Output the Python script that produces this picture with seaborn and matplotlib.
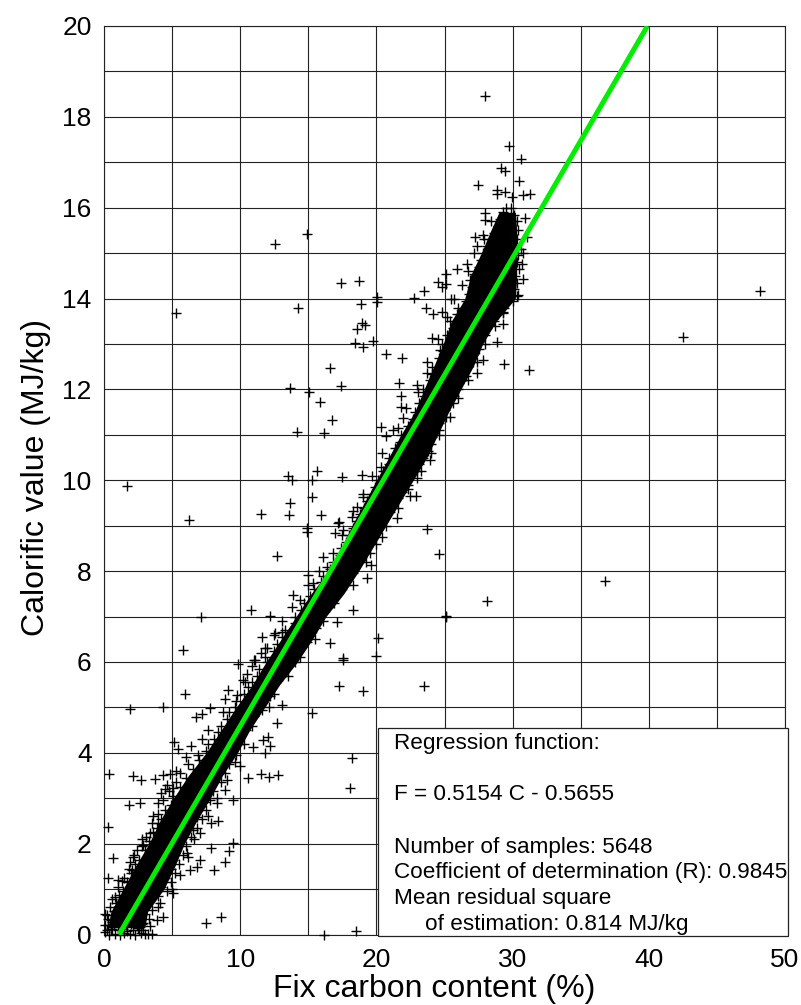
import pandas as pd
import matplotlib.pyplot as plt
from matplotlib.patches import Rectangle
import seaborn as sns

# regression line
line_x = [1.10, 39.90]
line_y = [0.0, 20.0]

# solid black part of the cloud, where the samples overlap completely
core_y = [0.15, 0.5, 1, 1.5, 2, 2.5, 3, 3.5, 4, 4.5, 5, 5.5, 6, 6.5, 7, 7.5, 8, 8.5, 9, 9.5, 10, 10.5,
          11, 11.5, 12, 12.5, 13, 13.5, 14, 14.5, 15, 15.5, 15.9]
core_lo = [0.3, 0.5, 1.4, 2.3, 3.3, 4.1, 5.1, 6.2, 7.5, 8.6, 9.7, 10.9, 11.9, 13.0, 14.1, 15.2, 16.5, 17.4, 18.2, 19.1, 20.0, 20.9,
           21.8, 22.8, 23.5, 24.2, 24.9, 25.5, 26.5, 26.9, 27.7, 28.4, 29.0]
core_hi = [3.0, 3.2, 4.4, 5.2, 5.9, 6.8, 7.8, 8.7, 9.8, 10.7, 11.8, 12.9, 14.2, 15.3, 16.3, 17.6, 18.7, 19.7, 20.7, 21.7, 22.7, 23.7,
           24.5, 25.3, 26.2, 27.1, 27.8, 28.8, 30.2, 30.3, 30.3, 30.3, 30.2]

# samples along the upper left edge of the cloud
left_y = [0.05, 0.12, 0.2, 0.28, 0.35, 0.45, 0.52, 0.6, 0.7, 0.78, 0.88, 0.95, 1.05, 1.15, 1.25, 1.35, 1.45, 1.55, 1.65, 1.75,
          1.85, 1.95, 2.05, 2.15, 2.25, 2.35, 2.45, 2.55, 2.65, 2.75, 2.85, 2.95, 3.05, 3.15, 3.25, 3.35, 3.45, 3.55, 3.65, 3.75,
          3.85, 3.95, 4.05, 4.2, 4.3, 4.45, 4.6, 4.75, 4.9, 5.0, 5.15, 5.3, 5.45, 5.55, 5.7, 5.85, 6.0, 6.1, 6.25, 6.4,
          6.55, 6.7, 6.85, 7.0, 7.15, 7.3, 7.45, 7.6, 7.75, 7.9, 8.05, 8.2, 8.35, 8.5, 8.65, 8.8, 8.95, 9.1, 9.25, 9.4,
          9.55, 9.7, 9.85, 10.0, 10.2, 10.35, 10.5, 10.7, 10.85, 11.0, 11.2, 11.35, 11.5, 11.7, 11.85, 12.0, 12.2, 12.35, 12.5, 12.7,
          12.85, 13.0, 13.2, 13.35, 13.5, 13.65, 13.8, 13.95, 14.1, 14.25, 14.4, 14.55, 14.7, 14.85, 15.0, 15.15, 15.3, 15.45, 15.6, 15.75,
          15.9, 16.0]
left_x = [0.1, 0.5, 0.05, 0.6, 0.3, 0.1, 0.7, 0.45, 0.9, 0.6, 1.1, 1.4, 1.0, 1.7, 1.5, 2.0, 1.8, 2.3, 2.6, 2.2,
          3.0, 2.8, 3.3, 3.1, 3.6, 3.9, 3.5, 4.2, 4.0, 4.5, 4.9, 4.3, 5.1, 4.8, 5.6, 5.3, 6.0, 5.6, 6.5, 6.2,
          7.0, 6.9, 7.5, 7.6, 8.1, 8.4, 8.6, 9.0, 9.2, 9.6, 9.7, 10.3, 10.6, 10.9, 11.2, 11.4, 12.0, 11.8, 12.5, 12.7,
          13.1, 13.3, 14.0, 14.0, 14.5, 14.7, 15.1, 15.4, 15.9, 16.1, 16.6, 16.8, 17.3, 17.4, 17.8, 18.0, 18.3, 18.6, 18.8, 19.1,
          19.3, 19.7, 19.9, 20.1, 20.5, 20.9, 20.9, 21.4, 21.7, 21.8, 22.3, 22.7, 22.8, 23.1, 23.5, 23.4, 23.9, 24.1, 24.1, 24.6,
          24.9, 24.8, 25.2, 25.6, 25.4, 25.9, 26.0, 26.6, 26.8, 27.0, 26.9, 27.2, 27.5, 27.7, 27.8, 28.1, 28.4, 28.6, 28.9, 29.1,
          29.3, 29.5]

# samples along the lower right edge of the cloud
right_y = [0.02, 0.1, 0.18, 0.25, 0.35, 0.45, 0.55, 0.39, 0.75, 0.85, 0.95, 1.05, 1.15, 1.25, 1.35, 1.45, 1.55, 1.65, 1.75, 1.85,
           1.95, 2.05, 2.15, 2.25, 2.35, 2.45, 2.55, 2.65, 2.75, 2.85, 2.95, 3.05, 3.15, 3.25, 3.35, 3.45, 3.55, 3.65, 3.75, 3.85,
           3.95, 4.05, 4.2, 4.35, 4.5, 4.65, 4.8, 4.95, 5.1, 5.25, 5.4, 5.55, 5.7, 5.85, 6.0, 6.15, 6.3, 6.45, 6.6, 6.75,
           6.9, 7.05, 7.2, 7.35, 7.5, 7.65, 7.8, 7.95, 8.1, 8.25, 8.4, 8.55, 8.7, 8.85, 9.0, 9.15, 9.3, 9.45, 9.6, 9.75,
           9.9, 10.05, 10.2, 10.35, 10.5, 10.65, 10.8, 10.95, 11.1, 11.25, 11.4, 11.55, 11.7, 11.85, 12.0, 12.15, 12.3, 12.45, 12.6, 12.75,
           12.9, 13.05, 13.2, 13.35, 13.5, 13.65, 13.8, 13.95, 14.05, 14.2, 14.35, 14.5, 14.65, 14.8, 14.95, 15.1, 15.3, 15.5, 15.7, 15.85,
           16.0]
right_x = [3.2, 2.6, 3.4, 2.9, 3.3, 3.0, 3.5, 4.3, 3.4, 4.0, 4.6, 4.2, 4.9, 4.5, 5.2, 4.9, 5.5, 5.1, 5.8, 5.3,
           6.0, 5.6, 6.4, 5.9, 6.8, 6.3, 7.2, 6.6, 7.5, 7.0, 7.8, 7.3, 8.0, 7.6, 8.6, 8.0, 8.9, 8.4, 9.2, 9.0,
           9.7, 9.3, 9.9, 9.8, 10.4, 10.3, 11.0, 11.6, 11.2, 12.2, 12.1, 12.6, 13.1, 13.0, 14.0, 13.9, 14.4, 14.9, 15.0, 15.6,
           15.5, 15.9, 16.5, 16.4, 17.0, 17.3, 17.7, 18.3, 18.4, 18.9, 19.2, 19.4, 19.7, 20.0, 20.3, 20.4, 21.0, 21.1, 21.6, 21.9,
           22.3, 22.4, 23.0, 23.1, 23.4, 23.8, 24.0, 24.1, 24.6, 24.6, 25.1, 25.0, 25.6, 25.7, 26.0, 26.1, 26.6, 26.6, 27.1, 27.1,
           27.5, 27.5, 28.0, 28.1, 28.6, 28.9, 29.4, 30.0, 30.3, 30.1, 30.3, 30.2, 30.5, 30.3, 30.4, 30.6, 30.3, 30.4, 30.3, 30.1,
           29.9]

# ragged samples just outside the edges
fringe_y = [1.2, 1.6, 2.1, 2.6, 2.9, 3.2, 3.6, 3.9, 4.3, 5.6, 5.9, 6.2, 6.6, 6.9, 7.2, 7.7, 8.0, 8.4, 8.8, 9.2, 9.7, 10.1, 10.6, 11.1, 11.6,
            12.1, 12.6, 13.1, 13.6, 14.0, 14.3, 14.6, 15.0, 15.3, 15.7,
            0.6, 1.0, 1.3, 1.7, 2.1, 2.6, 3.0, 3.4, 3.8, 4.2, 4.6, 5.0, 5.3, 5.7, 6.1, 6.5, 6.9, 7.3, 7.7, 8.2, 8.6, 9.0, 9.4, 9.8, 10.2,
            10.6, 11.0, 11.4, 11.8, 12.2, 12.6, 13.0, 13.4, 13.7]
fringe_x = [1.0, 1.9, 2.8, 3.6, 4.0, 4.5, 5.3, 6.0, 7.2, 10.2, 10.9, 11.5, 12.5, 13.1, 13.8, 15.0, 15.8, 16.8, 17.5, 18.2, 19.0, 19.7, 20.4, 21.2, 22.2,
            23.0, 23.7, 24.5, 25.2, 25.7, 26.3, 26.7, 27.2, 27.9, 28.4,
            4.0, 5.0, 5.6, 6.2, 6.6, 7.6, 8.3, 9.0, 9.6, 10.3, 10.9, 12.1, 12.5, 13.5, 14.4, 15.5, 16.1, 16.9, 17.8, 19.2, 20.0, 20.7, 21.6, 22.3, 23.3,
            24.0, 24.6, 25.4, 26.0, 26.7, 27.4, 28.0, 28.7, 29.3]

# samples at the foot of the cloud, too sparse to be solid
foot_x = [0.4, 0.8, 1.2, 1.5, 1.9, 2.3, 2.7, 3.0, 0.2, 0.6, 1.0, 1.4, 1.7, 2.1, 2.5, 2.9, 0.3, 0.7, 1.1, 1.6, 2.0, 2.4, 2.8, 0.5, 0.9, 1.3, 1.8, 2.2, 2.6]
foot_y = [0.0, 0.02, 0.0, 0.03, 0.01, 0.0, 0.03, 0.02, 0.1, 0.12, 0.09, 0.13, 0.08, 0.11, 0.14, 0.1, 0.22, 0.2, 0.25, 0.21, 0.24, 0.2, 0.23, 0.33, 0.36, 0.31, 0.38, 0.34, 0.37]

# samples standing off the cloud
off_x = [27.95, 29.71, 30.59, 29.13, 29.42, 30.45, 27.44, 28.83, 28.83, 29.42, 29.93, 30.74, 31.25, 27.95, 18.71, 20.03, 20.03, 18.86, 18.93, 18.56,
         19.15, 18.42, 19.0, 19.74, 20.69, 21.86, 22.74, 23.48, 24.5, 24.8, 25.09, 25.09, 25.46, 25.9, 23.62, 24.14, 24.8, 24.06, 29.35, 31.18,
         12.55, 14.89, 17.39, 14.23, 16.58, 17.39, 13.65, 15.04, 15.85, 16.73, 14.16, 16.14, 21.64, 21.79, 21.79, 20.32, 20.69, 13.5, 13.79, 15.63,
         15.26, 17.46, 18.93, 13.65, 13.57, 11.52, 15.26, 15.92, 14.89, 14.89, 17.24, 12.69, 10.79, 12.18, 11.59, 11.0, 23.7, 24.58, 22.89, 22.45,
         25.09, 25.09, 20.1, 19.96, 17.53, 16.58, 21.5, 19.3, 19.59, 18.27, 17.09, 5.8, 9.83, 17.53, 17.24, 19.0, 5.94, 1.91, 4.33, 15.26,
         18.2, 18.05, 0.37, 2.13, 2.71, 3.74, 4.33, 4.84, 5.14, 5.43, 6.38, 1.83, 2.64, 4.18, 0.29, 0.66, 2.13, 0.29, 1.32, 7.48,
         8.58, 16.14, 18.49, 3.52, 10.56, 11.52, 12.11, 12.77, 9.46, 9.17, 8.88, 8.07, 7.85, 8.36, 7.85, 9.46, 11.81, 12.03, 12.18, 12.69,
         13.06, 9.98, 1.69, 6.24, 5.28, 7.12, 36.76, 42.48, 48.13, 28.1, 23.48, 11.67, 10.93, 4.62, 5.06, 6.31, 6.82, 6.09, 7.04, 7.04,
         6.53, 6.82, 8.29, 7.41, 8.88, 5.06, 4.11, 3.89, 2.86, 2.42, 3.96, 3.37, 2.05, 0.81, 0.22, 7.63, 6.75, 7.19, 7.78, 8.73,
         8.88, 9.1, 9.76, 10.49, 11.08, 11.96, 10.34, 18.27, 18.56, 20.32, 19.0, 17.17, 16.95, 17.53, 16.07, 16.36, 14.97, 15.33, 13.87, 14.38,
         12.55, 13.06, 11.81, 21.57, 21.94, 23.04, 23.7, 24.65, 23.92, 22.96, 20.4, 19.52, 18.27, 27.22, 27.8, 27.37, 26.63, 27.95, 30.89, 31.03,
         30.74, 30.67, 30.74, 30.37, 29.27, 29.27, 28.83, 27.8, 27.37]
off_y = [18.45, 17.35, 17.08, 16.88, 16.8, 16.58, 16.49, 16.4, 16.31, 16.35, 16.24, 16.29, 16.31, 15.89, 14.39, 14.04, 13.93, 13.89, 13.47, 13.34,
         13.41, 13.03, 12.94, 13.07, 12.79, 12.7, 14.02, 14.17, 14.37, 14.26, 14.53, 14.33, 14.0, 14.64, 13.8, 13.67, 13.71, 13.14, 12.57, 12.43,
         15.21, 15.43, 14.35, 13.8, 12.48, 12.08, 12.02, 11.95, 11.73, 11.33, 11.07, 11.05, 12.15, 11.86, 11.62, 11.18, 10.98, 10.1, 10.01, 10.21,
         10.01, 10.08, 10.12, 9.5, 9.24, 9.26, 9.64, 9.24, 8.95, 8.87, 9.09, 8.34, 7.15, 7.02, 6.55, 6.05, 8.93, 8.38, 9.66, 9.66,
         6.99, 7.01, 6.53, 6.13, 6.09, 6.42, 9.17, 7.85, 8.14, 7.15, 6.88, 6.27, 5.96, 6.05, 5.47, 5.36, 5.3, 4.97, 5.01, 4.88,
         3.89, 3.23, 3.54, 3.49, 3.4, 3.43, 3.51, 3.54, 4.24, 4.09, 4.15, 2.85, 2.9, 3.12, 2.37, 1.68, 1.71, 1.24, 1.18, 0.25,
         0.39, -0.01, 0.08, 0.01, 3.45, 3.54, 3.47, 3.51, 2.02, 1.84, 1.6, 1.42, 1.91, 2.5, 2.46, 2.96, 4.0, 4.35, 4.15, 4.66,
         5.05, 3.71, 9.88, 9.13, 13.69, 6.99, 7.78, 13.16, 14.17, 7.35, 5.47, 4.28, 4.13, 3.29, 3.23, 1.42, 1.49, 1.8, 1.64, 2.24,
         2.3, 2.59, 2.9, 2.92, 3.18, 0.91, 0.69, 0.32, 1.97, 1.86, 2.46, 2.24, 1.42, 0.83, 0.43, 4.5, 4.79, 4.86, 4.99, 4.9,
         5.19, 5.39, 5.27, 5.74, 6.05, 6.31, 5.56, 9.33, 9.42, 10.3, 9.64, 9.06, 8.84, 8.91, 8.31, 8.09, 7.92, 7.74, 7.48, 7.37,
         6.64, 6.66, 6.31, 11.16, 11.38, 11.95, 12.37, 12.87, 10.45, 10.05, 8.76, 8.4, 7.7, 15.36, 15.41, 15.15, 14.75, 15.74, 15.78, 15.36,
         15.01, 14.75, 14.42, 14.08, 13.69, 13.43, 13.05, 12.65, 12.37]

x_ticks = [0, 10, 20, 30, 40, 50]
y_ticks = [0, 2, 4, 6, 8, 10, 12, 14, 16, 18, 20]

box_lines = ["Regression function:", "F = 0.5154 C - 0.5655", "Number of samples: 5648",
             "Coefficient of determination (R): 0.9845", "Mean residual square", "of estimation: 0.814 MJ/kg"]

sns.set_style("white")
plt.rcParams['font.family'] = ['Liberation Sans', 'DejaVu Sans']
plt.rcParams['text.color'] = 'black'
plt.rcParams['axes.labelcolor'] = 'black'

samples = pd.DataFrame({'carbon': left_x + right_x + fringe_x + foot_x + off_x,
                        'calorific': left_y + right_y + fringe_y + foot_y + off_y})

fig = plt.figure(figsize=(8.01, 10.05), dpi=100)
ax = fig.add_axes([104 / 801, 1 - 934.5 / 1005, 681 / 801, 908.5 / 1005])

ax.fill_betweenx(core_y, core_lo, core_hi, color='black', lw=0, zorder=2)
sns.scatterplot(data=samples, x='carbon', y='calorific', marker='+', s=62, color='black', linewidth=1.0,
                clip_on=False, zorder=3, ax=ax)
sns.lineplot(x=line_x, y=line_y, color='#00ee00', linewidth=3.6, solid_capstyle='butt', zorder=4, ax=ax)

ax.set_xlim(0, 50)
ax.set_ylim(0, 20)
ax.set_xticks(x_ticks)
ax.set_xticks(range(0, 51, 5), minor=True)
ax.set_yticks(y_ticks)
ax.set_yticks(range(0, 21), minor=True)
ax.grid(which='both', color='#222222', linewidth=0.8)
ax.set_axisbelow(True)
ax.tick_params(which='both', length=0)
ax.tick_params(axis='x', labelsize=19, pad=10, colors='black')
ax.tick_params(axis='y', labelsize=19, pad=9, colors='black')
for side in ax.spines.values():
    side.set_color('#222222')
    side.set_linewidth(0.8)
ax.set_xlabel('Fix carbon content (%)', fontsize=23, x=0.485, labelpad=1.5)
ax.set_ylabel('Calorific value (MJ/kg)', fontsize=23, y=0.503, labelpad=8)

# text box over the lower right corner
ax.add_patch(Rectangle((20.1, -0.03), 30.1, 4.58, facecolor='white', edgecolor='#222222', linewidth=0.9,
                       clip_on=False, zorder=5))
text_x = [21.28, 21.28, 21.28, 21.28, 21.28, 23.55]
text_y = [4.21, 3.09, 1.92, 1.37, 0.80, 0.22]
for tx, ty, line in zip(text_x, text_y, box_lines):
    ax.text(tx, ty, line, fontsize=16.2, va='center', ha='left', zorder=6)

plt.savefig('out.png', dpi=100)
plt.close()
